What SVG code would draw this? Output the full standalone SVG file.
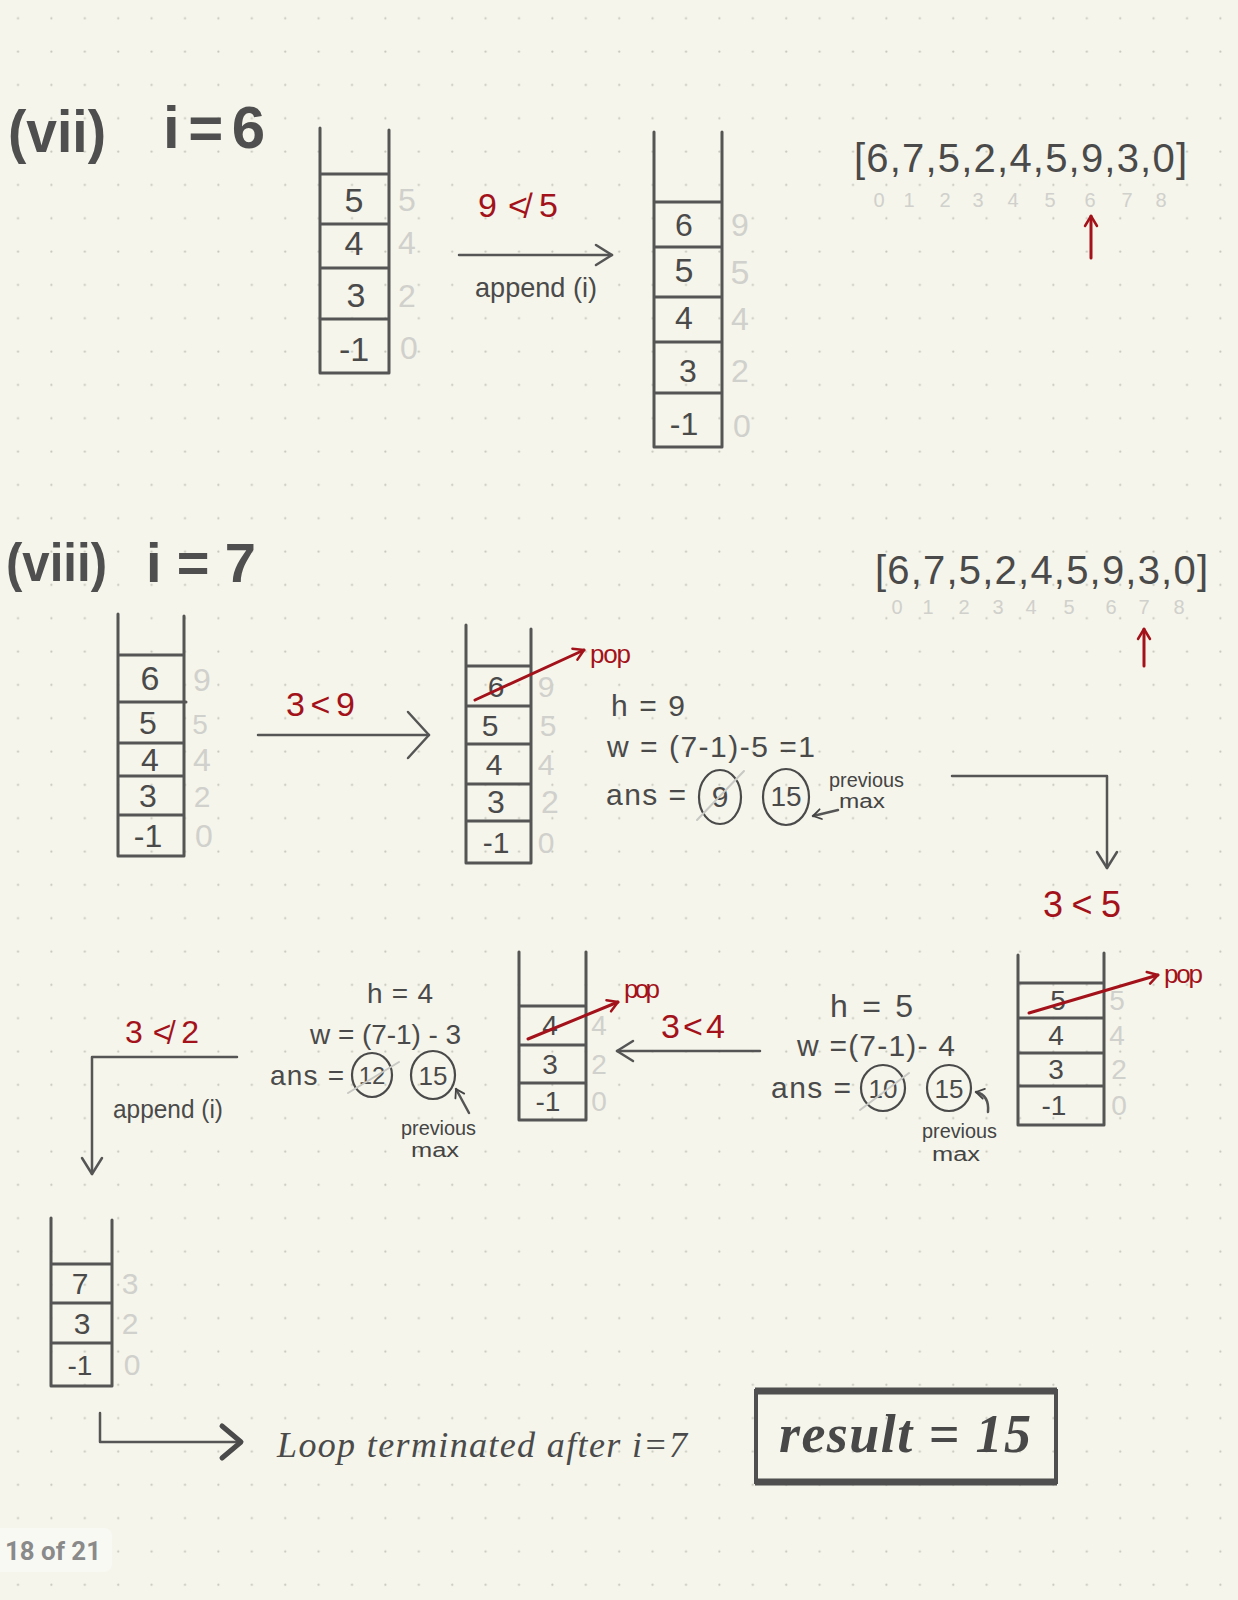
<svg xmlns="http://www.w3.org/2000/svg" width="1238" height="1600" viewBox="0 0 1238 1600">
<defs>
<pattern id="dots" patternUnits="userSpaceOnUse" x="0" y="0" width="33.4" height="33.33">
<circle cx="18" cy="18.3" r="1.1" fill="#c6c6bd"/>
</pattern>
<marker id="chev" markerUnits="userSpaceOnUse" viewBox="0 0 24 24" refX="20" refY="12" markerWidth="24" markerHeight="24" orient="auto">
<path d="M4 2 L20 12 L4 22" fill="none" stroke="#555" stroke-width="2.5" stroke-linecap="round" stroke-linejoin="round"/>
</marker>
<marker id="chevL" markerUnits="userSpaceOnUse" viewBox="0 0 28 52" refX="24" refY="26" markerWidth="28" markerHeight="52" orient="auto">
<path d="M3 3 L24 26 L3 49" fill="none" stroke="#555" stroke-width="2.5" stroke-linecap="round" stroke-linejoin="round"/>
</marker>
<marker id="chevB" markerUnits="userSpaceOnUse" viewBox="0 0 28 40" refX="23" refY="20" markerWidth="28" markerHeight="40" orient="auto">
<path d="M4 4 L23 20 L4 36" fill="none" stroke="#4a4a4a" stroke-width="5" stroke-linecap="round" stroke-linejoin="round"/>
</marker>
<marker id="chevS" markerUnits="userSpaceOnUse" viewBox="0 0 14 14" refX="11" refY="7" markerWidth="14" markerHeight="14" orient="auto">
<path d="M3 2 L11 7 L3 12" fill="none" stroke="#444" stroke-width="1.8" stroke-linecap="round" stroke-linejoin="round"/>
</marker>
<marker id="redchev" markerUnits="userSpaceOnUse" viewBox="0 0 16 16" refX="13" refY="8" markerWidth="16" markerHeight="16" orient="auto">
<path d="M3 2 L13 8 L3 14" fill="none" stroke="#a3121a" stroke-width="2.5" stroke-linecap="round" stroke-linejoin="round"/>
</marker>
</defs>
<style>
.stk{fill:none;stroke:#555;stroke-width:3;stroke-linecap:round;stroke-linejoin:round}
.t{font-family:"Liberation Sans","DejaVu Sans",sans-serif;fill:#4a4a4a}
.num{font-family:"Liberation Sans","DejaVu Sans",sans-serif;fill:#4a4a4a;text-anchor:middle}
.idx{font-family:"Liberation Sans","DejaVu Sans",sans-serif;fill:#d0d0cc;text-anchor:middle}
.red{font-family:"Liberation Sans","DejaVu Sans",sans-serif;fill:#a3121a}
.title{font-family:"Liberation Sans","DejaVu Sans",sans-serif;fill:#4f4f4f;font-weight:bold}
.conn{fill:none;stroke:#555;stroke-width:2.5;stroke-linecap:round;stroke-linejoin:round}
.rline{fill:none;stroke:#a3121a;stroke-width:3;stroke-linecap:round}
.circ{fill:none;stroke:#4a4a4a;stroke-width:2.2}
.strike{stroke:#c8c8c4;stroke-width:2;stroke-linecap:round}
.small{font-family:"Liberation Sans","DejaVu Sans",sans-serif;fill:#444;font-size:20px}
</style>
<rect width="1238" height="1600" fill="#f5f5eb"/>
<rect width="1238" height="1600" fill="url(#dots)"/>

<g id="title-vii">
<text class="title" x="8" y="152" font-size="60" textLength="98" lengthAdjust="spacingAndGlyphs">(vii)</text>
<text class="title" x="163" y="148" font-size="60" textLength="102" lengthAdjust="spacing">i=6</text>
</g>

<g id="stack-vii-before">
<path class="stk" d="M320 128 V373 H389 V130 M320 174 H389 M320 224 H389 M320 268 H389 M320 319 H389"/>
<text class="num" x="354" y="212" font-size="34">5</text>
<text class="num" x="354" y="255" font-size="34">4</text>
<text class="num" x="356" y="307" font-size="34">3</text>
<text class="num" x="354" y="361" font-size="34">-1</text>
<text class="idx" x="407" y="211" font-size="32">5</text>
<text class="idx" x="407" y="254" font-size="32">4</text>
<text class="idx" x="407" y="307" font-size="32">2</text>
<text class="idx" x="409" y="359" font-size="32">0</text>
</g>

<g id="stack-vii-after">
<path class="stk" d="M654 132 V447 H722 V132 M654 202 H722 M654 247 H722 M654 297 H722 M654 342 H722 M654 393 H722"/>
<text class="num" x="684" y="236" font-size="32">6</text>
<text class="num" x="684" y="282" font-size="34">5</text>
<text class="num" x="684" y="329" font-size="32">4</text>
<text class="num" x="688" y="382" font-size="32">3</text>
<text class="num" x="684" y="435" font-size="32">-1</text>
<text class="idx" x="740" y="236" font-size="32">9</text>
<text class="idx" x="740" y="284" font-size="34">5</text>
<text class="idx" x="740" y="330" font-size="32">4</text>
<text class="idx" x="740" y="382" font-size="32">2</text>
<text class="idx" x="742" y="437" font-size="32">0</text>
</g>

<g id="label-vii-cond">
<text class="red" x="478" y="217" font-size="34" textLength="80" lengthAdjust="spacing">9≮5</text>
<text class="t" x="475" y="297" font-size="28" textLength="122" lengthAdjust="spacingAndGlyphs">append (i)</text>
</g>

<g id="array-vii">
<text class="t" x="854" y="172" font-size="40" textLength="333" lengthAdjust="spacing">[6,7,5,2,4,5,9,3,0]</text>
<text class="idx" font-size="20" y="207"><tspan x="879">0</tspan><tspan x="909">1</tspan><tspan x="945">2</tspan><tspan x="978">3</tspan><tspan x="1013">4</tspan><tspan x="1050">5</tspan><tspan x="1090">6</tspan><tspan x="1127">7</tspan><tspan x="1161">8</tspan></text>
</g>

<g id="title-viii">
<text class="title" x="6" y="581" font-size="54" textLength="101" lengthAdjust="spacingAndGlyphs">(viii)</text>
<text class="title" x="146" y="582" font-size="56" textLength="110" lengthAdjust="spacing">i=7</text>
</g>

<g id="array-viii">
<text class="t" x="875" y="584" font-size="40" textLength="333" lengthAdjust="spacing">[6,7,5,2,4,5,9,3,0]</text>
<text class="idx" font-size="20" y="614"><tspan x="897">0</tspan><tspan x="928">1</tspan><tspan x="964">2</tspan><tspan x="998">3</tspan><tspan x="1031">4</tspan><tspan x="1069">5</tspan><tspan x="1111">6</tspan><tspan x="1144">7</tspan><tspan x="1179">8</tspan></text>
</g>

<g id="stack-viii-1">
<path class="stk" d="M118 614 V856 H184 V616 M118 655 H184 M118 702 H186 M118 743 H184 M118 776 H184 M118 815 H184"/>
<text class="num" x="150" y="690" font-size="34">6</text>
<text class="num" x="148" y="734" font-size="32">5</text>
<text class="num" x="150" y="771" font-size="32">4</text>
<text class="num" x="148" y="807" font-size="32">3</text>
<text class="num" x="148" y="847" font-size="32">-1</text>
<text class="idx" x="202" y="691" font-size="32">9</text>
<text class="idx" x="200" y="734" font-size="28">5</text>
<text class="idx" x="202" y="771" font-size="32">4</text>
<text class="idx" x="202" y="807" font-size="30">2</text>
<text class="idx" x="204" y="847" font-size="32">0</text>
</g>

<g id="label-viii-cond1">
<text class="red" x="286" y="716" font-size="34" textLength="69" lengthAdjust="spacing">3&lt;9</text>
</g>

<g id="stack-viii-2">
<path class="stk" d="M466 625 V863 H531 V629 M466 666 H531 M466 706 H531 M466 744 H531 M466 784 H531 M466 821 H531"/>
<text class="num" x="496" y="697" font-size="30">6</text>
<text class="num" x="490" y="736" font-size="30">5</text>
<text class="num" x="494" y="775" font-size="30">4</text>
<text class="num" x="496" y="813" font-size="32">3</text>
<text class="num" x="496" y="853" font-size="30">-1</text>
<text class="idx" x="546" y="697" font-size="30">9</text>
<text class="idx" x="548" y="736" font-size="30">5</text>
<text class="idx" x="546" y="775" font-size="30">4</text>
<text class="idx" x="550" y="813" font-size="32">2</text>
<text class="idx" x="546" y="853" font-size="30">0</text>
</g>

<g id="pop-viii-1">
<text class="red" x="590" y="663" font-size="26" textLength="41" lengthAdjust="spacing">pop</text>
</g>

<g id="calc-h9">
<text class="t" x="611" y="716" font-size="30" textLength="74" lengthAdjust="spacing">h = 9</text>
<text class="t" x="607" y="757" font-size="30" textLength="208" lengthAdjust="spacing">w = (7-1)-5 =1</text>
<text class="t" x="606" y="805" font-size="30" textLength="80" lengthAdjust="spacing">ans =</text>
<ellipse class="circ" cx="720" cy="797" rx="21" ry="27"/>
<text class="num" x="720" y="807" font-size="30">9</text>
<line class="strike" x1="697" y1="820" x2="744" y2="771"/>
<ellipse class="circ" cx="786" cy="797" rx="23" ry="28"/>
<text class="num" x="786" y="806" font-size="28">15</text>
<text class="small" x="829" y="787" textLength="75" lengthAdjust="spacingAndGlyphs">previous</text>
<text class="small" x="839" y="808" textLength="46" lengthAdjust="spacingAndGlyphs">max</text>
</g>

<g id="label-viii-cond2">
<text class="red" x="1043" y="917" font-size="36" textLength="78" lengthAdjust="spacing">3&lt;5</text>
</g>

<g id="stack-viii-3">
<path class="stk" d="M1018 955 V1125 H1104 V953 M1018 983 H1104 M1018 1018 H1104 M1018 1053 H1104 M1018 1086 H1104"/>
<text class="num" x="1058" y="1010" font-size="28">5</text>
<text class="num" x="1056" y="1045" font-size="28">4</text>
<text class="num" x="1056" y="1079" font-size="28">3</text>
<text class="num" x="1054" y="1115" font-size="28">-1</text>
<text class="idx" x="1117" y="1010" font-size="28">5</text>
<text class="idx" x="1117" y="1045" font-size="28">4</text>
<text class="idx" x="1119" y="1079" font-size="28">2</text>
<text class="idx" x="1119" y="1115" font-size="28">0</text>
</g>

<g id="pop-viii-3">
<text class="red" x="1164" y="983" font-size="26" textLength="39" lengthAdjust="spacing">pop</text>
</g>

<g id="calc-h5">
<text class="t" x="830" y="1017" font-size="32" textLength="83" lengthAdjust="spacing">h = 5</text>
<text class="t" x="797" y="1056" font-size="30" textLength="158" lengthAdjust="spacing">w =(7-1)- 4</text>
<text class="t" x="771" y="1098" font-size="30" textLength="80" lengthAdjust="spacing">ans =</text>
<ellipse class="circ" cx="883" cy="1088" rx="22" ry="23"/>
<text class="num" x="883" y="1098" font-size="26">10</text>
<line class="strike" x1="860" y1="1110" x2="909" y2="1073"/>
<ellipse class="circ" cx="949" cy="1088" rx="22" ry="23"/>
<text class="num" x="949" y="1098" font-size="26">15</text>
<text class="small" x="922" y="1138" textLength="75" lengthAdjust="spacingAndGlyphs">previous</text>
<text class="small" x="932" y="1161" textLength="48" lengthAdjust="spacingAndGlyphs">max</text>
</g>

<g id="label-viii-cond3">
<text class="red" x="661" y="1038" font-size="34" textLength="64" lengthAdjust="spacing">3&lt;4</text>
</g>

<g id="stack-viii-4">
<path class="stk" d="M519 952 V1120 H586 V952 M519 1006 H586 M519 1045 H586 M519 1083 H586"/>
<text class="num" x="550" y="1035" font-size="28">4</text>
<text class="num" x="550" y="1074" font-size="28">3</text>
<text class="num" x="548" y="1111" font-size="28">-1</text>
<text class="idx" x="599" y="1035" font-size="28">4</text>
<text class="idx" x="599" y="1074" font-size="28">2</text>
<text class="idx" x="599" y="1111" font-size="28">0</text>
</g>

<g id="pop-viii-4">
<text class="red" x="624" y="998" font-size="26" textLength="36" lengthAdjust="spacing">pop</text>
</g>

<g id="calc-h4">
<text class="t" x="367" y="1003" font-size="28" textLength="66" lengthAdjust="spacing">h = 4</text>
<text class="t" x="310" y="1044" font-size="28" textLength="151" lengthAdjust="spacing">w = (7-1) - 3</text>
<text class="t" x="270" y="1085" font-size="28" textLength="74" lengthAdjust="spacing">ans =</text>
<ellipse class="circ" cx="372" cy="1075" rx="20" ry="22"/>
<text class="num" x="372" y="1084" font-size="24">12</text>
<line class="strike" x1="348" y1="1093" x2="399" y2="1062"/>
<ellipse class="circ" cx="433" cy="1075" rx="22" ry="24"/>
<text class="num" x="433" y="1085" font-size="26">15</text>
<text class="small" x="401" y="1135" textLength="75" lengthAdjust="spacingAndGlyphs">previous</text>
<text class="small" x="411" y="1157" textLength="48" lengthAdjust="spacingAndGlyphs">max</text>
</g>

<g id="label-viii-cond4">
<text class="red" x="125" y="1043" font-size="32" textLength="74" lengthAdjust="spacing">3≮2</text>
<text class="t" x="113" y="1118" font-size="26" textLength="110" lengthAdjust="spacingAndGlyphs">append (i)</text>
</g>

<g id="stack-viii-5">
<path class="stk" d="M51 1218 V1386 H112 V1220 M51 1264 H112 M51 1303 H112 M51 1343 H112"/>
<text class="num" x="80" y="1294" font-size="30">7</text>
<text class="num" x="82" y="1334" font-size="30">3</text>
<text class="num" x="80" y="1375" font-size="28">-1</text>
<text class="idx" x="130" y="1294" font-size="30">3</text>
<text class="idx" x="130" y="1334" font-size="30">2</text>
<text class="idx" x="132" y="1375" font-size="30">0</text>
</g>

<g id="end-note">
<text x="277" y="1457" font-family="'Liberation Serif','DejaVu Serif',serif" font-style="italic" font-size="36" fill="#4a4a4a" textLength="410" lengthAdjust="spacing">Loop terminated after i=7</text>
</g>

<g id="result-box">
<rect x="756" y="1391" width="300" height="91" fill="none" stroke="#4f4f4f" stroke-width="4"/>
<line x1="755" y1="1391" x2="1057" y2="1391" stroke="#4f4f4f" stroke-width="7"/>
<line x1="755" y1="1482" x2="1057" y2="1482" stroke="#4f4f4f" stroke-width="7"/>
<text x="779" y="1452" font-family="'Liberation Serif','DejaVu Serif',serif" font-style="italic" font-weight="bold" font-size="54" fill="#484848" textLength="252" lengthAdjust="spacing">result = 15</text>
</g>

<g id="page-label">
<rect x="-6" y="1528" width="118" height="44" rx="8" fill="#f9f9f4"/>
<text x="5" y="1560" font-family="Roboto,'Liberation Sans',sans-serif" font-weight="bold" font-size="26" fill="#8a8a8a" textLength="96" lengthAdjust="spacingAndGlyphs">18 of 21</text>
</g>

<g id="connectors">
<line class="conn" x1="459" y1="255" x2="612" y2="255" marker-end="url(#chev)"/>
<line class="rline" x1="1091" y1="258" x2="1091" y2="216" marker-end="url(#redchev)"/>
<line class="conn" x1="258" y1="735" x2="429" y2="735" marker-end="url(#chevL)"/>
<line class="rline" x1="1144" y1="666" x2="1144" y2="629" marker-end="url(#redchev)"/>
<line class="rline" x1="475" y1="700" x2="584" y2="650" marker-end="url(#redchev)"/>
<line class="conn" x1="838" y1="810" x2="813" y2="816" stroke-width="1.8" marker-end="url(#chevS)"/>
<path class="conn" d="M952 776 H1107 V868" marker-end="url(#chev)"/>
<line class="rline" x1="1029" y1="1013" x2="1158" y2="975" marker-end="url(#redchev)"/>
<path class="conn" d="M988 1112 C989 1100 985 1094 976 1092" stroke-width="1.8" marker-end="url(#chevS)"/>
<line class="conn" x1="760" y1="1051" x2="617" y2="1051" marker-end="url(#chev)"/>
<line class="rline" x1="528" y1="1039" x2="618" y2="1002" marker-end="url(#redchev)"/>
<path class="conn" d="M469 1113 L456 1089" stroke-width="1.8" marker-end="url(#chevS)"/>
<path class="conn" d="M237 1057 H92 V1174" marker-end="url(#chev)"/>
<path class="conn" d="M100 1413 V1442 H241" stroke="#4a4a4a" stroke-width="5" marker-end="url(#chevB)"/>
</g>
</svg>
